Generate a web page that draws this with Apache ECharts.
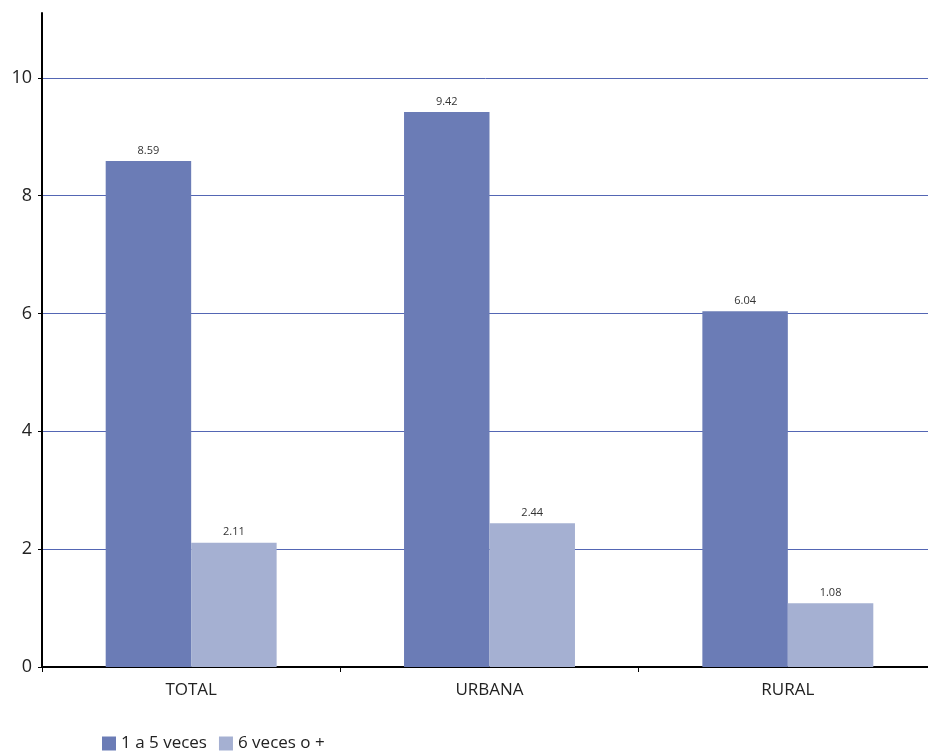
<!DOCTYPE html>
<html><head><meta charset="utf-8">
<script src="https://cdn.jsdelivr.net/npm/echarts@6/dist/echarts.min.js"></script>
<style>html,body{margin:0;padding:0;background:#fff}#c{width:928px;height:753px}</style>
</head><body><div id="c"></div>
<script>
const categories = ['TOTAL', 'URBANA', 'RURAL'];
const seriesNames = ['1 a 5 veces', '6 veces o +'];
const values1a5 = [8.59, 9.42, 6.04];
const values6mas = [2.11, 2.44, 1.08];
const font = '"Open Sans", "Noto Sans", sans-serif';
const chart = echarts.init(document.getElementById('c'));
const lbl = {show: true, position: 'top', fontSize: 11, color: '#333', fontFamily: font, distance: 5};
const g = '#5466b4';
chart.setOption({
  animation: false,
  grid: {left: 42, width: 895, top: 13, bottom: 86, containLabel: false, outerBoundsMode: 'none'},
  legend: {
    left: 97, top: 730, itemWidth: 14, itemHeight: 14, itemGap: 12, icon: 'rect',
    textStyle: {fontSize: 17, color: '#222', fontFamily: font},
    data: seriesNames
  },
  xAxis: {
    type: 'category', data: categories,
    axisLine: {lineStyle: {color: '#000', width: 2}},
    axisTick: {show: true, length: 5, lineStyle: {color: '#000'}},
    axisLabel: {fontSize: 17, color: '#222', fontFamily: font, margin: 15}
  },
  yAxis: {
    type: 'value', min: 0, max: 11.1, interval: 2,
    axisLine: {show: true, lineStyle: {color: '#000', width: 2}},
    axisTick: {show: true, length: 4, lineStyle: {color: '#000'}},
    axisLabel: {fontSize: 18, color: '#222', fontFamily: font, margin: 10, showMaxLabel: false,
      formatter: v => (v % 2 === 0 ? String(v) : '')},
    splitLine: {lineStyle: {color: [g, g, g, g, g, g, 'rgba(0,0,0,0)'], width: 1}}
  },
  series: [
    {name: seriesNames[0], type: 'bar', data: values1a5, barGap: '0%', barCategoryGap: '42.7%',
     itemStyle: {color: '#6b7cb6'}, label: lbl},
    {name: seriesNames[1], type: 'bar', data: values6mas,
     itemStyle: {color: '#a5b0d2'}, label: lbl}
  ]
});
</script></body></html>
